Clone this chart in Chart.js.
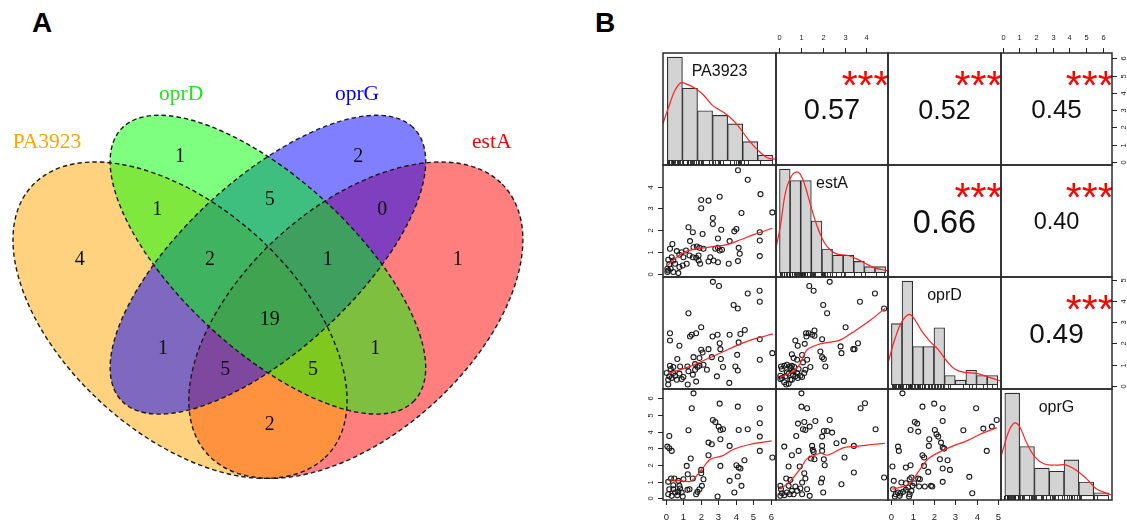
<!DOCTYPE html>
<html>
<head>
<meta charset="utf-8">
<title>Venn + correlation matrix</title>
<script src="https://cdn.jsdelivr.net/npm/chart.js@4.4.1/dist/chart.umd.min.js"></script>
<style>
  body { margin: 0; width: 1127px; height: 521px; background: #fff; position: relative; overflow: hidden; }
  canvas { position: absolute; }
  .tag { position: absolute; font: bold 28px "Liberation Sans", Arial, sans-serif; line-height: 1; color: #000; }
</style>
</head>
<body>
<div class="tag" style="left:32px; top:9px;">A</div>
<div class="tag" style="left:595px; top:9px;">B</div>
<canvas id="venn" width="560" height="521" style="left:0; top:0;"></canvas>
<script>
// ---------------- Panel A data ----------------
const vennSets = ['PA3923', 'oprD', 'oprG', 'estA'];
const vennRegions = ['PA3923', 'oprD', 'oprG', 'estA',
  'PA3923+oprD', 'oprD+oprG', 'oprG+estA',
  'PA3923+oprD+oprG', 'oprD+oprG+estA', 'all',
  'PA3923+oprG', 'PA3923+oprG+estA', 'PA3923+oprD+estA', 'oprD+estA', 'PA3923+estA'];
const vennCounts = [4, 1, 2, 1, 1, 5, 0, 2, 1, 19, 1, 5, 5, 1, 2];

// ---------------- Panel B data ----------------
const genes = ['PA3923', 'estA', 'oprD', 'oprG'];
const geneTicks = [[0, 1, 2, 3, 4, 5, 6], [0, 1, 2, 3, 4], [0, 1, 2, 3, 4, 5], [0, 1, 2, 3, 4, 5, 6]];
// upper panels: (PA3923,estA) (PA3923,oprD) (PA3923,oprG) (estA,oprD) (estA,oprG) (oprD,oprG)
const corrR = [0.57, 0.52, 0.45, 0.66, 0.40, 0.49];
const corrStars = ['***', '***', '***', '***', '***', '***'];

// histograms (bin edges, heights relative to tallest bin)
const paBreaks = [0.08, 0.944, 1.808, 2.672, 3.536, 4.4, 5.264, 6.128];
const paHeights = [1.0, 0.70, 0.483, 0.438, 0.356, 0.185, 0.054];
const estABreaks = [0.01, 0.498, 0.986, 1.474, 1.962, 2.45, 2.938, 3.426, 3.914, 4.402, 4.89];
const estAHeights = [1.0, 0.89, 0.89, 0.50, 0.23, 0.17, 0.17, 0.11, 0.06, 0.06];
const oprDBreaks = [0, 0.5, 1.0, 1.5, 2.0, 2.5, 3.0, 3.5, 4.0, 4.5, 5.0];
const oprDHeights = [0.59, 1.0, 0.37, 0.37, 0.55, 0.09, 0.045, 0.14, 0.09, 0.09];
const oprGBreaks = [0.12, 1.01, 1.90, 2.79, 3.68, 4.57, 5.46, 6.35];
const oprGHeights = [1.0, 0.48, 0.27, 0.24, 0.35, 0.135, 0.03];

// density curves (same relative units)
const paDensity = [[-0.17, 0.36], [0.23, 0.556], [0.52, 0.68], [0.85, 0.752], [1.19, 0.74], [1.67, 0.70], [2.15, 0.635], [2.64, 0.54], [3.12, 0.486], [3.6, 0.43], [4.08, 0.35], [4.66, 0.22], [5.23, 0.11], [5.81, 0.03], [6.3, 0.016]];
const estADensity = [[-0.15, 0.24], [0.05, 0.45], [0.28, 0.77], [0.5, 0.91], [0.74, 0.97], [0.97, 0.95], [1.2, 0.83], [1.43, 0.66], [1.74, 0.45], [2.05, 0.30], [2.35, 0.22], [2.66, 0.18], [3.12, 0.17], [3.5, 0.14], [3.89, 0.10], [4.35, 0.05], [4.99, 0.02]];
const oprDDensity = [[-0.16, 0.21], [0.16, 0.44], [0.47, 0.60], [0.83, 0.68], [1.1, 0.63], [1.42, 0.52], [1.81, 0.42], [2.2, 0.34], [2.6, 0.23], [2.99, 0.15], [3.46, 0.12], [4.01, 0.11], [4.48, 0.08], [5.1, 0.04]];
const oprGDensity = [[-0.11, 0.38], [0.12, 0.51], [0.42, 0.65], [0.72, 0.71], [1.02, 0.67], [1.42, 0.52], [1.92, 0.38], [2.51, 0.31], [3.21, 0.30], [3.81, 0.30], [4.41, 0.25], [5.01, 0.17], [5.61, 0.07], [6.5, 0.01]];

// scatter panels [x, y]
const pa_estA = [[4.13,4.76],[4.69,4.32],[5.42,3.66],[6.10,2.82],[2.02,3.39],[2.44,3.36],[3.08,3.54],[2.02,3.01],[2.69,2.56],[2.69,2.29],[4.33,2.79],[1.29,2.14],[1.54,1.91],[2.10,1.83],[3.17,2.02],[3.92,1.95],[4.04,2.06],[3.65,1.50],[2.98,1.62],[5.38,1.91],[5.38,1.53],[5.38,0.81],[1.38,1.50],[0.37,1.37],[0.23,1.15],[0.62,1.04],[0.90,0.99],[1.15,1.07],[1.58,1.22],[1.77,1.25],[1.92,1.19],[2.15,1.15],[2.83,1.15],[2.98,1.19],[3.08,1.07],[3.21,1.10],[4.17,1.19],[4.23,0.92],[4.13,0.58],[3.60,0.46],[2.98,0.53],[2.44,0.56],[1.87,0.61],[1.73,0.73],[1.35,0.84],[0.77,0.87],[0.33,0.76],[0.13,0.64],[0.19,0.43],[0.08,0.23],[0.13,0.15],[0.27,0.23],[0.42,0.08],[0.71,0.03],[0.77,0.31],[0.96,0.38],[1.19,0.46],[0.08,0.08],[0.52,0.46],[1.54,0.76],[1.87,0.84],[2.54,0.76],[2.73,0.61],[1.96,0.46],[0.42,0.61],[1.00,0.76]];
const pa_oprD = [[2.69,4.92],[3.04,4.72],[4.69,4.37],[5.37,4.50],[5.38,3.98],[3.88,3.82],[4.12,3.66],[1.29,3.43],[2.02,2.77],[1.73,2.48],[1.48,2.41],[1.38,2.33],[0.23,2.48],[0.23,2.14],[0.77,1.89],[2.67,2.33],[2.96,2.41],[3.65,2.41],[4.27,2.45],[4.52,2.64],[5.38,2.20],[4.17,2.05],[3.08,2.01],[3.12,1.73],[2.02,1.70],[2.44,1.73],[2.10,1.57],[1.58,1.35],[1.92,1.31],[2.63,1.35],[3.15,1.26],[4.08,1.46],[5.38,1.23],[6.10,1.54],[0.65,1.26],[0.23,0.94],[0.27,0.79],[0.42,0.88],[0.81,0.91],[1.23,0.91],[1.67,1.02],[1.81,0.88],[1.92,0.94],[2.15,0.99],[3.27,0.88],[3.98,0.91],[4.12,0.72],[2.92,0.44],[3.63,0.13],[1.73,0.19],[1.25,0.05],[0.13,0.05],[0.13,0.28],[0.19,0.44],[0.33,0.36],[0.52,0.47],[0.77,0.57],[0.90,0.31],[1.00,0.41],[1.29,0.68],[1.54,0.52],[1.67,0.75],[0.04,0.60],[0.42,0.60],[0.62,0.28],[2.35,0.75]];
const estA_oprD = [[1.38,4.72],[1.58,4.50],[2.32,4.92],[2.02,3.82],[2.20,3.43],[3.71,3.98],[4.40,4.37],[4.82,3.66],[3.05,2.77],[1.62,2.61],[1.23,2.48],[1.35,2.48],[1.51,2.41],[1.62,2.36],[1.25,2.33],[1.97,2.20],[0.74,2.14],[0.85,1.89],[1.17,1.98],[2.82,1.86],[2.86,1.54],[3.62,2.01],[3.40,1.73],[3.46,1.73],[1.89,1.62],[1.97,1.35],[2.05,1.26],[2.12,0.91],[1.43,0.88],[0.58,1.49],[0.66,1.31],[0.82,1.23],[1.05,1.45],[1.09,1.10],[0.08,0.91],[0.12,0.79],[0.23,0.94],[0.35,0.99],[0.48,0.91],[0.54,0.83],[0.58,0.94],[0.69,0.88],[0.89,0.79],[0.66,0.68],[0.05,0.47],[0.05,0.31],[0.12,0.36],[0.28,0.44],[0.23,0.16],[0.43,0.09],[0.51,0.28],[0.63,0.52],[0.74,0.44],[0.85,0.36],[0.97,0.47],[1.05,0.41],[1.15,0.60],[0.35,0.63],[0.43,0.57],[0.32,0.05],[1.28,1.23],[1.20,0.75],[0.82,0.60],[0.58,0.28]];
const pa_oprG = [[1.58,6.30],[1.48,5.40],[1.29,4.08],[0.19,3.74],[0.08,3.10],[0.19,3.00],[0.33,2.84],[1.42,2.38],[1.19,1.94],[1.25,1.44],[1.00,1.14],[0.29,1.18],[0.48,1.18],[0.71,1.04],[0.13,0.98],[0.42,0.78],[0.19,0.54],[0.13,0.24],[0.33,0.14],[0.71,0.38],[0.77,0.74],[0.81,0.58],[0.90,0.34],[0.96,0.10],[1.23,0.50],[1.35,0.54],[0.52,0.34],[1.54,1.18],[1.73,0.24],[1.81,0.38],[1.92,0.54],[2.06,0.74],[2.15,1.14],[2.02,1.50],[2.02,1.70],[2.44,2.58],[2.63,3.24],[2.69,4.70],[2.83,4.58],[3.02,4.30],[3.12,4.10],[3.27,4.14],[3.08,5.68],[3.12,3.54],[3.12,1.94],[2.96,0.10],[2.44,3.34],[3.65,3.14],[3.65,1.04],[3.92,0.34],[4.12,5.50],[4.17,4.10],[4.04,1.98],[4.17,1.84],[4.27,1.78],[4.12,1.30],[4.33,0.74],[4.69,4.14],[4.50,2.28],[5.38,5.40],[5.38,4.50],[5.38,3.70],[5.38,2.84],[6.10,2.44],[0.42,0.54],[0.65,0.18]];
const estA_oprG = [[1.02,6.30],[1.02,5.50],[1.28,5.40],[0.86,4.48],[1.15,4.58],[1.09,4.14],[1.20,4.10],[1.40,4.30],[1.66,4.64],[2.32,4.70],[2.05,4.04],[2.20,4.04],[1.97,3.70],[0.78,3.74],[0.23,3.10],[0.89,2.84],[0.58,2.58],[1.51,3.14],[1.54,2.90],[1.58,2.78],[1.62,2.34],[1.46,2.38],[1.97,3.14],[1.97,2.84],[2.05,2.34],[2.09,1.98],[2.63,3.30],[3.43,3.14],[3.43,1.54],[2.86,0.84],[1.97,1.18],[1.92,0.94],[2.02,0.34],[1.40,0.14],[0.97,0.58],[1.05,0.94],[1.20,1.18],[1.15,1.50],[0.94,1.90],[0.43,1.90],[0.32,1.18],[0.51,1.10],[0.05,0.74],[0.08,0.54],[0.12,0.30],[0.05,0.14],[0.23,0.18],[0.35,0.34],[0.48,0.24],[0.58,0.44],[0.66,0.24],[0.74,0.70],[0.82,0.44],[1.05,0.24],[1.28,0.54],[0.43,0.74],[4.43,4.14],[3.94,5.70],[3.74,5.40],[4.82,1.24],[3.00,2.44],[2.97,3.44],[2.43,3.94]];
const oprD_oprG = [[0.52,6.30],[1.46,5.50],[2.01,5.68],[2.41,5.40],[3.98,5.40],[1.10,4.58],[1.21,4.48],[0.90,4.10],[1.26,4.00],[2.41,4.64],[2.04,4.10],[2.12,3.84],[2.20,3.70],[3.38,4.08],[4.32,4.18],[4.72,4.30],[4.95,4.70],[1.78,3.54],[1.76,3.14],[2.33,3.34],[2.41,3.04],[2.48,2.98],[0.31,3.10],[0.35,2.84],[4.48,2.84],[1.46,2.58],[1.54,2.44],[2.28,2.34],[2.64,2.28],[0.05,1.90],[0.68,1.84],[0.90,1.98],[1.53,1.94],[1.73,1.58],[2.41,1.78],[2.75,1.70],[2.41,0.98],[3.66,1.28],[3.80,0.30],[0.11,1.04],[0.47,0.94],[0.68,0.90],[0.86,1.14],[0.94,1.24],[1.07,0.90],[1.26,1.18],[1.34,1.14],[1.30,0.70],[1.57,0.70],[1.86,0.74],[1.92,0.70],[0.08,0.54],[0.20,0.24],[0.31,0.34],[0.42,0.28],[0.55,0.38],[0.68,0.50],[0.79,0.64],[0.86,0.24],[0.94,0.44],[0.16,0.10],[0.39,0.14],[0.83,0.10],[0.99,0.74]];

// smoothed (loess) lines
const pa_estA_fit = [[0.04,0.34],[0.62,0.76],[1.19,1.04],[1.77,1.15],[2.73,1.25],[3.5,1.34],[4.27,1.56],[5.04,1.8],[6.1,2.09]];
const pa_oprD_fit = [[0.13,0.57],[1.38,0.91],[2.35,1.26],[3.31,1.62],[4.27,1.98],[5.23,2.25],[6.13,2.45]];
const estA_oprD_fit = [[0.05,0.41],[0.66,0.68],[0.97,1.07],[1.28,1.70],[1.89,1.98],[2.51,2.09],[2.82,2.17],[3.43,2.56],[4.2,3.11],[4.86,3.66]];
const pa_oprG_fit = [[0.13,1.1],[0.62,1.08],[1.38,1.0],[1.62,1.18],[2.06,1.74],[2.54,2.34],[3.02,2.48],[3.31,2.58],[3.88,2.94],[4.85,3.24],[6.06,3.44]];
const estA_oprG_fit = [[0.05,0.54],[0.51,1.04],[0.97,1.78],[1.28,2.38],[1.58,2.54],[1.89,2.70],[2.2,2.58],[2.51,2.74],[2.97,3.04],[3.74,3.14],[4.35,3.24],[4.86,3.30]];
const oprD_oprG_fit = [[0.05,0.54],[0.71,0.78],[1.02,1.14],[1.26,1.58],[1.57,2.14],[1.81,2.44],[2.28,2.78],[2.91,3.14],[3.54,3.44],[4.17,3.84],[4.95,4.24]];

// ---------------- Panel A: Venn ----------------
// label anchors in unit-square coords of the diagram
const vennRegionPos = [[0.179,0.582],[0.350,0.768],[0.654,0.768],[0.824,0.582],[0.311,0.672],[0.503,0.690],[0.695,0.672],[0.401,0.582],[0.602,0.582],[0.503,0.474],[0.321,0.422],[0.427,0.384],[0.577,0.384],[0.683,0.422],[0.503,0.285]];
const vennSetPos = [[0.123,0.780],[0.352,0.867],[0.652,0.867],[0.882,0.780]];
const vennShapes = [
  { cx: 0.35, cy: 0.47, a: 0.35, b: 0.20, rot: -45 },
  { cx: 0.50, cy: 0.57, a: 0.35, b: 0.15, rot: -45 },
  { cx: 0.50, cy: 0.57, a: 0.35, b: 0.15, rot: 45 },
  { cx: 0.65, cy: 0.47, a: 0.35, b: 0.20, rot: 45 }
];
const vennFill = ['rgb(255,165,0)', 'rgb(0,255,0)', 'rgb(0,0,255)', 'rgb(255,0,0)'];
const vennText = ['#ffa500', '#1ee61e', '#0000ff', '#ff0000'];
const fillOrder = [3, 0, 2, 1];

const vennPlugin = {
  id: 'vennShapes',
  beforeDatasetsDraw(chart) {
    const { ctx, scales: { x, y } } = chart;
    const kx = x.getPixelForValue(1) - x.getPixelForValue(0);
    const ky = y.getPixelForValue(0) - y.getPixelForValue(1);
    const trace = e => {
      ctx.save();
      ctx.translate(x.getPixelForValue(e.cx), y.getPixelForValue(e.cy));
      ctx.scale(kx, -ky);
      ctx.beginPath();
      ctx.ellipse(0, 0, e.a, e.b, e.rot * Math.PI / 180, 0, 2 * Math.PI);
      ctx.restore();
    };
    ctx.save();
    ctx.globalAlpha = 0.5;
    fillOrder.forEach(k => { trace(vennShapes[k]); ctx.fillStyle = vennFill[k]; ctx.fill(); });
    ctx.globalAlpha = 1;
    ctx.setLineDash([4.5, 3]);
    ctx.lineWidth = 1.4;
    ctx.strokeStyle = '#1a1a1a';
    vennShapes.forEach(e => { trace(e); ctx.stroke(); });
    ctx.restore();
  },
  afterDatasetsDraw(chart) {
    const ctx = chart.ctx;
    ctx.save();
    ctx.textAlign = 'center';
    ctx.textBaseline = 'alphabetic';
    ctx.font = '20px "Liberation Serif", "Times New Roman", serif';
    ctx.fillStyle = '#111';
    chart.getDatasetMeta(0).data.forEach((pt, k) => ctx.fillText(String(vennCounts[k]), pt.x, pt.y + 7));
    ctx.font = '21.5px "Liberation Serif", "Times New Roman", serif';
    chart.getDatasetMeta(1).data.forEach((pt, k) => {
      ctx.fillStyle = vennText[k];
      ctx.fillText(vennSets[k], pt.x, pt.y);
    });
    ctx.restore();
  }
};

new Chart(document.getElementById('venn'), {
  type: 'scatter',
  data: {
    datasets: [
      { label: 'regions', data: vennRegionPos.map(p => ({ x: p[0], y: p[1] })), pointRadius: 0 },
      { label: 'sets', data: vennSetPos.map(p => ({ x: p[0], y: p[1] })), pointRadius: 0 }
    ]
  },
  options: {
    responsive: false,
    animation: false,
    events: [],
    layout: { padding: 0 },
    plugins: { legend: { display: false }, tooltip: { enabled: false } },
    scales: {
      x: { type: 'linear', display: false, min: 0.0428, max: 0.0428 + 560 / 586 },
      y: { type: 'linear', display: false, min: 1.0469 - 521 / 555, max: 1.0469 }
    }
  },
  plugins: [vennPlugin]
});

// ---------------- Panel B: correlation matrix ----------------
const colEdges = [663, 776, 888, 1001, 1112];
const rowEdges = [53, 165, 277, 389, 500];
const PAD = 30;
const geneRange = [[-0.17, 6.31], [-0.15, 5.0], [-0.16, 5.15], [-0.11, 6.56]];
const corrFont = [29, 27, 26, 32.5, 23.5, 28];

const hists = [
  { breaks: paBreaks, heights: paHeights, dens: paDensity, rug: pa_oprG.map(p => p[0]) },
  { breaks: estABreaks, heights: estAHeights, dens: estADensity, rug: estA_oprG.map(p => p[0]) },
  { breaks: oprDBreaks, heights: oprDHeights, dens: oprDDensity, rug: oprD_oprG.map(p => p[0]) },
  { breaks: oprGBreaks, heights: oprGHeights, dens: oprGDensity, rug: oprD_oprG.map(p => p[1]) }
];
const lowerPanels = {
  '1-0': [pa_estA, pa_estA_fit],
  '2-0': [pa_oprD, pa_oprD_fit],
  '2-1': [estA_oprD, estA_oprD_fit],
  '3-0': [pa_oprG, pa_oprG_fit],
  '3-1': [estA_oprG, estA_oprG_fit],
  '3-2': [oprD_oprG, oprD_oprG_fit]
};
const upperIndex = { '0-1': 0, '0-2': 1, '0-3': 2, '1-2': 3, '1-3': 4, '2-3': 5 };

const SANS = '"Liberation Sans", Arial, Helvetica, sans-serif';

function drawAxis(ctx, side, scale, ticks, a) {
  ctx.strokeStyle = '#222';
  ctx.fillStyle = '#222';
  ctx.lineWidth = 1;
  ctx.textAlign = 'center';
  ctx.textBaseline = 'middle';
  ticks.forEach(t => {
    const p = Math.round(scale.getPixelForValue(t)) + 0.5;
    ctx.beginPath();
    if (side === 'top') {
      ctx.moveTo(p, a.top); ctx.lineTo(p, a.top - 5); ctx.stroke();
      ctx.font = '7.5px ' + SANS;
      ctx.fillText(String(t), p, a.top - 15);
    } else if (side === 'bottom') {
      ctx.moveTo(p, a.bottom); ctx.lineTo(p, a.bottom + 5); ctx.stroke();
      ctx.font = '9.5px ' + SANS;
      ctx.fillText(String(t), p, a.bottom + 17);
    } else {
      const dir = side === 'left' ? -1 : 1;
      const edge = side === 'left' ? a.left : a.right;
      ctx.moveTo(edge, p); ctx.lineTo(edge + 5 * dir, p); ctx.stroke();
      ctx.save();
      ctx.translate(edge + 12 * dir, p);
      ctx.rotate(-Math.PI / 2);
      ctx.font = '7.5px ' + SANS;
      ctx.fillText(String(t), 0, 0);
      ctx.restore();
    }
  });
}

function cellDecor(i, j) {
  return {
    id: 'cellDecor',
    afterDraw(chart) {
      const { ctx, chartArea: a, scales: { x, y } } = chart;
      const w = a.right - a.left, h = a.bottom - a.top;
      ctx.save();
      if (i === j) {
        // rug + name
        ctx.strokeStyle = '#222';
        ctx.lineWidth = 0.9;
        hists[i].rug.forEach(v => {
          const px = Math.round(x.getPixelForValue(v)) + 0.5;
          ctx.beginPath(); ctx.moveTo(px, a.bottom); ctx.lineTo(px, a.bottom - 4); ctx.stroke();
        });
        ctx.fillStyle = '#111';
        ctx.font = '16px ' + SANS;
        ctx.textAlign = 'center';
        ctx.textBaseline = 'middle';
        ctx.fillText(genes[i], a.left + w / 2, a.top + 19);
      } else if (i < j) {
        const k = upperIndex[i + '-' + j];
        const fs = corrFont[k];
        ctx.fillStyle = '#111';
        ctx.font = fs + 'px ' + SANS;
        ctx.textAlign = 'center';
        ctx.textBaseline = 'alphabetic';
        ctx.fillText(corrR[k].toFixed(2), a.left + w / 2, a.top + h / 2 + 0.358 * fs);
        ctx.save();
        ctx.beginPath(); ctx.rect(a.left, a.top, w, h); ctx.clip();
        ctx.fillStyle = '#ff0000';
        ctx.font = '41px ' + SANS;
        ctx.fillText(corrStars[k], a.left + 0.8 * w, a.top + 0.2 * h + 0.575 * 41);
        ctx.restore();
      }
      ctx.strokeStyle = '#2a2a2a';
      ctx.lineWidth = 1.5;
      ctx.strokeRect(a.left, a.top, w, h);
      if (i === 0 && j % 2 === 1) drawAxis(ctx, 'top', x, geneTicks[j], a);
      if (i === 3 && j % 2 === 0) drawAxis(ctx, 'bottom', x, geneTicks[j], a);
      if (j === 0 && i % 2 === 1) drawAxis(ctx, 'left', y, geneTicks[i], a);
      if (j === 3 && i % 2 === 0) drawAxis(ctx, 'right', y, geneTicks[i], a);
      ctx.restore();
    }
  };
}

function cellChart(i, j) {
  const left = colEdges[j], top = rowEdges[i];
  const cv = document.createElement('canvas');
  cv.width = colEdges[j + 1] - left + 2 * PAD;
  cv.height = rowEdges[i + 1] - top + 2 * PAD;
  cv.style.left = (left - PAD) + 'px';
  cv.style.top = (top - PAD) + 'px';
  document.body.appendChild(cv);

  let type = 'scatter';
  let datasets = [];
  let yMin = geneRange[i][0], yMax = geneRange[i][1];
  let afterBuildTicks;

  if (i === j) {
    const hs = hists[i];
    type = 'bar';
    yMin = -0.04; yMax = 1.04;
    afterBuildTicks = s => { s.ticks = hs.breaks.map(v => ({ value: v })); };
    datasets = [
      { type: 'line', data: hs.dens.map(p => ({ x: p[0], y: p[1] })), borderColor: '#ff2020', borderWidth: 1.2, pointRadius: 0, tension: 0.4, fill: false },
      {
        type: 'bar',
        data: hs.heights.map((v, k) => ({ x: (hs.breaks[k] + hs.breaks[k + 1]) / 2, y: v })),
        backgroundColor: '#d3d3d3', borderColor: '#2e2e2e', borderWidth: 1.1, borderSkipped: false,
        barPercentage: 1, categoryPercentage: 1, grouped: false
      }
    ];
  } else if (i > j) {
    const [pts, fit] = lowerPanels[i + '-' + j];
    datasets = [
      { type: 'line', data: fit.map(p => ({ x: p[0], y: p[1] })), borderColor: '#ff2020', borderWidth: 1.2, pointRadius: 0, tension: 0.3, fill: false },
      { type: 'scatter', data: pts.map(p => ({ x: p[0], y: p[1] })), pointRadius: 2.5, pointBorderWidth: 1.1, pointBorderColor: '#1a1a1a', pointBackgroundColor: 'rgba(0,0,0,0)' }
    ];
  }

  new Chart(cv, {
    type,
    data: { datasets },
    options: {
      responsive: false,
      animation: false,
      events: [],
      layout: { padding: PAD },
      plugins: { legend: { display: false }, tooltip: { enabled: false } },
      scales: {
        x: { type: 'linear', display: false, offset: false, min: geneRange[j][0], max: geneRange[j][1], afterBuildTicks },
        y: { type: 'linear', display: false, min: yMin, max: yMax }
      }
    },
    plugins: [cellDecor(i, j)]
  });
}

for (let i = 0; i < 4; i++) {
  for (let j = 0; j < 4; j++) cellChart(i, j);
}
</script>
</body>
</html>
